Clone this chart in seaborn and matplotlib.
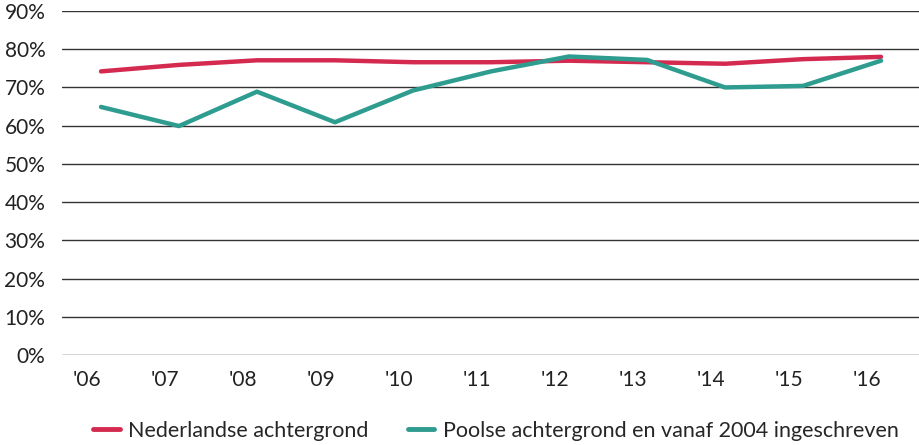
import matplotlib
matplotlib.use("Agg")
import matplotlib.pyplot as plt
import matplotlib.transforms as mtransforms
import numpy as np
import pandas as pd
import seaborn as sns

years = ["'06", "'07", "'08", "'09", "'10", "'11", "'12", "'13", "'14", "'15", "'16"]
nederlandse = [74.2, 75.9, 77.1, 77.1, 76.6, 76.6, 77.0, 76.6, 76.2, 77.4, 78.0]
poolse = [64.9, 59.9, 68.9, 60.9, 69.2, 74.2, 78.1, 77.2, 70.0, 70.4, 77.0]
series_names = ["Nederlandse achtergrond", "Poolse achtergrond en vanaf 2004 ingeschreven"]
y_ticks = [0, 10, 20, 30, 40, 50, 60, 70, 80, 90]

df = pd.DataFrame({
    "pos": list(range(len(years))) * 2,
    "value": nederlandse + poolse,
    "serie": [series_names[0]] * len(years) + [series_names[1]] * len(years),
})

sns.set_theme(style="white")
plt.rcParams["font.family"] = ["Lato", "DejaVu Sans"]

fig = plt.figure(figsize=(9.2, 4.45), dpi=100)
ax = fig.add_axes([62 / 920, 1 - 355 / 445, 1 - 62 / 920, (355 - 11) / 445])

palette = {series_names[0]: "#D42A50", series_names[1]: "#2E9C8F"}
sns.lineplot(data=df, x="pos", y="value", hue="serie", palette=palette,
             linewidth=3.2, ax=ax, legend=False, zorder=3)

for v in y_ticks:
    ax.axhline(v, color="#333333", linewidth=1.0, zorder=1)

ax.set_xlim(-0.5, len(years) - 0.5)
ax.set_ylim(0, 90)
ax.set_yticks(y_ticks)
ax.set_yticklabels([f"{v}%" for v in y_ticks])
ax.set_xticks(range(len(years)))
ax.set_xticklabels(years)
ax.tick_params(axis="y", length=0, pad=12, labelsize=15, colors="#222222")
ax.tick_params(axis="x", length=0, pad=11, labelsize=15, colors="#222222")
shift = mtransforms.ScaledTranslation(-14 / 100, 0, fig.dpi_scale_trans)
for lbl in ax.get_xticklabels():
    lbl.set_transform(lbl.get_transform() + shift)

for s in ax.spines.values():
    s.set_visible(False)
ax.set_xlabel("")
ax.set_ylabel("")

handles = [plt.Line2D([], [], color=palette[n], linewidth=3.5, solid_capstyle="round") for n in series_names]
fig.legend(handles, series_names, loc="center", bbox_to_anchor=(0.539, 14 / 445),
           ncol=2, frameon=False, fontsize=15.5, handlelength=1.25, handletextpad=0.4,
           columnspacing=1.8, borderaxespad=0, borderpad=0)

fig.savefig("out.png", dpi=100)
